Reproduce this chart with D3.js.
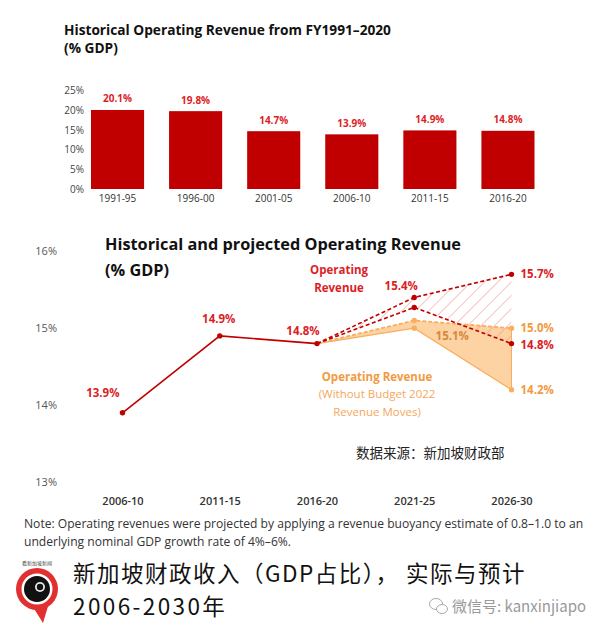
<!DOCTYPE html>
<html>
<head>
<meta charset="utf-8">
<script src="https://cdn.jsdelivr.net/npm/d3@7"></script>
<style>
  html, body { margin: 0; padding: 0; background: #fff; }
  svg { display: block; font-family: "Open Sans", "Noto Sans", sans-serif; }
</style>
</head>
<body>
<svg id="chart" width="602" height="636"></svg>
<script>
// ---------- data ----------
const barCategories = ["1991-95", "1996-00", "2001-05", "2006-10", "2011-15", "2016-20"];
const barValues = [20.1, 19.8, 14.7, 13.9, 14.9, 14.8];
const barTicks = [0, 5, 10, 15, 20, 25];

const lineCategories = ["2006-10", "2011-15", "2016-20", "2021-25", "2026-30"];
const lineTicks = [13, 14, 15, 16];
const historical = [13.9, 14.9, 14.8];            // 2006-10 .. 2016-20
const projCategories = ["2016-20", "2021-25", "2026-30"];
const redHigh = [14.8, 15.4, 15.7];
const redLow = [14.8, 15.27, 14.8];
const orangeHigh = [14.8, 15.1, 15.0];
const orangeLow = [14.8, 15.0, 14.2];

const svg = d3.select("#chart");
const RED = "#c00000", LRED = "#dc1e26", ORANGE = "#f7ae5e", DORANGE = "#f29a3f";

// ---------- top bar chart ----------
svg.append("text").attr("x", 64).attr("y", 34.5).attr("font-size", 13.7).attr("font-weight", 700)
  .attr("fill", "#111").text("Historical Operating Revenue from FY1991–2020");
svg.append("text").attr("x", 64).attr("y", 52.5).attr("font-size", 13.7).attr("font-weight", 700)
  .attr("fill", "#111").text("(% GDP)");

const xb = d3.scaleBand().domain(barCategories).range([78.5, 547]).paddingInner(0.32).paddingOuter(0.16);
const yb = d3.scaleLinear().domain([0, 25]).range([189, 90.7]);

const yAxB = svg.append("g").attr("transform", "translate(84,0)")
  .call(d3.axisLeft(yb).tickValues(barTicks).tickFormat(d => d + "%").tickSize(0).tickPadding(0));
yAxB.select(".domain").remove();
yAxB.selectAll("text").attr("font-size", 10).attr("fill", "#444").attr("font-family", "Open Sans");

const xAxB = svg.append("g").attr("transform", "translate(0,190)")
  .call(d3.axisBottom(xb).tickSize(0).tickPadding(5));
xAxB.select(".domain").remove();
xAxB.selectAll("text").attr("font-size", 10).attr("fill", "#333").attr("font-family", "Open Sans");

svg.append("g").selectAll("rect").data(barValues).join("rect")
  .attr("x", (d, i) => xb(barCategories[i]))
  .attr("width", xb.bandwidth())
  .attr("y", d => yb(d))
  .attr("height", d => yb(0) - yb(d))
  .attr("fill", RED);

svg.append("g").selectAll("text").data(barValues).join("text")
  .attr("x", (d, i) => xb(barCategories[i]) + xb.bandwidth() / 2)
  .attr("y", d => yb(d) - 7.5)
  .attr("text-anchor", "middle").attr("font-size", 10).attr("font-weight", 700)
  .attr("fill", LRED).text(d => d.toFixed(1) + "%");

// ---------- bottom line chart ----------
const xl = d3.scalePoint().domain(lineCategories).range([122.5, 511.5]);
const yl = d3.scaleLinear().domain([13, 16]).range([482, 251.3]);

const yAxL = svg.append("g").attr("transform", "translate(57,0)")
  .call(d3.axisLeft(yl).tickValues(lineTicks).tickFormat(d => d + "%").tickSize(0).tickPadding(0));
yAxL.select(".domain").remove();
yAxL.selectAll("text").attr("font-size", 11).attr("fill", "#555").attr("font-family", "Open Sans");

const xAxL = svg.append("g").attr("transform", "translate(0,494)")
  .call(d3.axisBottom(xl).tickSize(0).tickPadding(3));
xAxL.select(".domain").remove();
xAxL.selectAll("text").attr("font-size", 11).attr("font-weight", 600).attr("fill", "#333").attr("font-family", "Open Sans");

svg.append("text").attr("x", 105).attr("y", 249.5).attr("font-size", 16.3).attr("font-weight", 700)
  .attr("fill", "#111").text("Historical and projected Operating Revenue");
svg.append("text").attr("x", 105).attr("y", 276).attr("font-size", 16.3).attr("font-weight", 700)
  .attr("fill", "#111").text("(% GDP)");

// hatch pattern
const defs = svg.append("defs");
const pat = defs.append("pattern").attr("id", "hatch").attr("patternUnits", "userSpaceOnUse")
  .attr("width", 9.5).attr("height", 9.5).attr("patternTransform", "rotate(45)");
pat.append("line").attr("x1", 0).attr("y1", 0).attr("x2", 0).attr("y2", 9.5)
  .attr("stroke", "#f29494").attr("stroke-width", 1.1);

const px = i => xl(projCategories[i]);
const line = (vals) => d3.line().x((d, i) => px(i)).y(d => yl(d))(vals);
const area = (hi, lo) => d3.area().x((d, i) => px(i)).y0((d, i) => yl(lo[i])).y1(d => yl(d))(hi);

// orange fill
svg.append("path").attr("d", area(orangeHigh, orangeLow)).attr("fill", "#fed3a3");
// hatched region
svg.append("path").attr("d", area(redHigh, redLow)).attr("fill", "url(#hatch)");
// right edge of orange area
svg.append("line").attr("x1", px(2)).attr("x2", px(2)).attr("y1", yl(orangeHigh[2])).attr("y2", yl(orangeLow[2]))
  .attr("stroke", ORANGE).attr("stroke-width", 1);

// orange lines
svg.append("path").attr("d", line(orangeLow)).attr("fill", "none").attr("stroke", ORANGE).attr("stroke-width", 1.3);
svg.append("path").attr("d", line(orangeHigh)).attr("fill", "none").attr("stroke", ORANGE).attr("stroke-width", 1.8)
  .attr("stroke-dasharray", "4,2");
// red dashed lines
svg.append("path").attr("d", line(redHigh)).attr("fill", "none").attr("stroke", RED).attr("stroke-width", 1.6)
  .attr("stroke-dasharray", "4,2.5");
svg.append("path").attr("d", line(redLow)).attr("fill", "none").attr("stroke", RED).attr("stroke-width", 1.6)
  .attr("stroke-dasharray", "4,2.5");
// historical solid line
svg.append("path").attr("d", d3.line().x((d, i) => xl(lineCategories[i])).y(d => yl(d))(historical))
  .attr("fill", "none").attr("stroke", RED).attr("stroke-width", 1.6);

// dots
const dots = (vals, color, from) => svg.append("g").selectAll("circle").data(vals.slice(from)).join("circle")
  .attr("cx", (d, i) => px(i + from)).attr("cy", d => yl(d)).attr("r", 2.7).attr("fill", color);
dots(orangeLow, ORANGE, 1);
dots(orangeHigh, ORANGE, 1);
dots(redHigh, RED, 1);
dots(redLow, RED, 1);
svg.append("g").selectAll("circle").data(historical).join("circle")
  .attr("cx", (d, i) => xl(lineCategories[i])).attr("cy", d => yl(d)).attr("r", 2.7).attr("fill", RED);

// value labels
const lbl = (x, y, txt, color, anchor, size, weight) => svg.append("text").attr("x", x).attr("y", y)
  .attr("text-anchor", anchor || "start").attr("font-size", size || 11.5).attr("font-weight", weight || 700)
  .attr("fill", color).text(txt);

lbl(xl("2006-10") - 3, yl(historical[0]) - 16, historical[0].toFixed(1) + "%", LRED, "end");
lbl(xl("2011-15") - 1, yl(historical[1]) - 13, historical[1].toFixed(1) + "%", LRED, "middle");
lbl(xl("2016-20") - 14, yl(historical[2]) - 9, historical[2].toFixed(1) + "%", LRED, "middle");
lbl(px(1) - 13, yl(redHigh[1]) - 7, redHigh[1].toFixed(1) + "%", LRED, "middle");
lbl(px(2) + 9, yl(redHigh[2]) + 4, redHigh[2].toFixed(1) + "%", LRED, "start");
lbl(px(2) + 9, yl(redLow[2]) + 5, redLow[2].toFixed(1) + "%", LRED, "start");
lbl(px(2) + 9, yl(orangeHigh[2]) + 4, orangeHigh[2].toFixed(1) + "%", DORANGE, "start");
lbl(px(2) + 9, yl(orangeLow[2]) + 4, orangeLow[2].toFixed(1) + "%", DORANGE, "start");
lbl(px(1) + 38, yl(orangeHigh[1]) + 19, orangeHigh[1].toFixed(1) + "%", "#d7893e", "middle");

// series annotations
lbl(339, 274, "Operating", LRED, "middle", 11.5);
lbl(339, 292, "Revenue", LRED, "middle", 11.5);
lbl(377, 380.5, "Operating Revenue", DORANGE, "middle", 11.5);
lbl(377, 398, "(Without Budget 2022", "#f5a75c", "middle", 11.5, 400);
lbl(377, 415.5, "Revenue Moves)", "#f5a75c", "middle", 11.5, 400);

// source
svg.append("text").attr("x", 356).attr("y", 458).attr("font-size", 13.5)
  .attr("font-family", "Noto Sans CJK SC").attr("fill", "#222").text("数据来源：新加坡财政部");

// note
svg.append("text").attr("x", 24).attr("y", 528).attr("font-size", 12.1).attr("fill", "#333")
  .text("Note: Operating revenues were projected by applying a revenue buoyancy estimate of 0.8–1.0 to an");
svg.append("text").attr("x", 24).attr("y", 546).attr("font-size", 12.1).attr("fill", "#333")
  .text("underlying nominal GDP growth rate of 4%–6%.");

// caption
svg.append("text").attr("x", 73).attr("y", 581.5).attr("font-size", 22.5).attr("letter-spacing", 1.5)
  .attr("font-family", "Noto Sans CJK SC").attr("fill", "#111").text("新加坡财政收入（GDP占比）， 实际与预计");
svg.append("text").attr("x", 73).attr("y", 614.5).attr("font-size", 22.5).attr("letter-spacing", 2.4)
  .attr("font-family", "Noto Sans CJK SC").attr("fill", "#111").text("2006-2030年");

// logo
const logo = svg.append("g").attr("transform", "translate(37,589)");
logo.append("path").attr("d", "M-4,18 L6,34 L12,14 Z").attr("fill", "#e03030");
logo.append("circle").attr("r", 21).attr("fill", "#e03030");
logo.append("circle").attr("r", 15.5).attr("fill", "#fff");
logo.append("circle").attr("r", 13).attr("fill", "#111");
logo.append("circle").attr("cx", 3).attr("cy", -2).attr("r", 5).attr("fill", "#fff").attr("opacity", 0.9);
logo.append("circle").attr("cx", 3).attr("cy", -2).attr("r", 3.2).attr("fill", "#111");
logo.append("text").attr("x", 0).attr("y", -24).attr("text-anchor", "middle").attr("font-size", 5)
  .attr("font-family", "Noto Sans CJK SC").attr("fill", "#444").text("看新加坡新闻");

// wechat mark
const wc = svg.append("g").attr("transform", "translate(438,607)").attr("fill", "none").attr("stroke", "#aaa").attr("stroke-width", 1);
wc.append("ellipse").attr("cx", -2).attr("cy", -3).attr("rx", 6.5).attr("ry", 5.5);
wc.append("ellipse").attr("cx", 4).attr("cy", 2).attr("rx", 5.5).attr("ry", 4.5).attr("fill", "#fff");
svg.append("text").attr("x", 452).attr("y", 612).attr("font-size", 15)
  .attr("font-family", "Noto Sans CJK SC").attr("fill", "#999").text("微信号: kanxinjiapo");
</script>
</body>
</html>
